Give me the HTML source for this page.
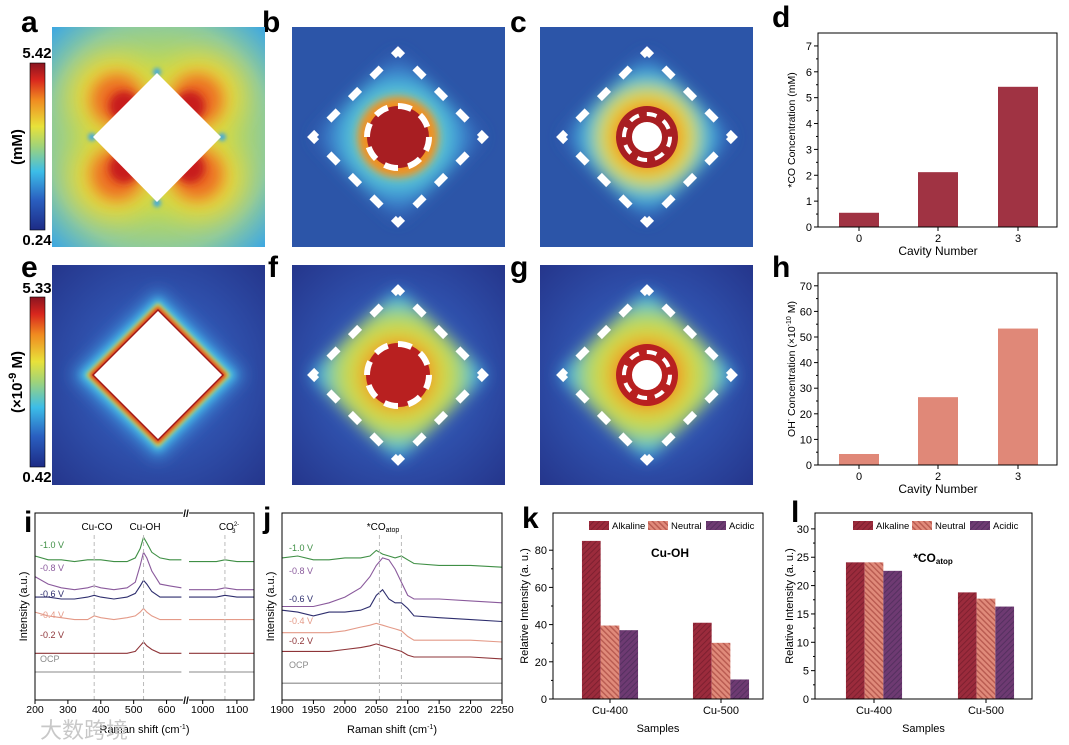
<!DOCTYPE html>
<html><head><meta charset="utf-8"><style>
html,body{margin:0;padding:0;background:#fff}
svg{display:block;font-family:"Liberation Sans","Noto Sans CJK SC",sans-serif}
</style></head><body>
<svg id="fig" width="1069" height="745" viewBox="0 0 1069 745" xmlns="http://www.w3.org/2000/svg">
<defs>
 <linearGradient id="jet" x1="0" y1="1" x2="0" y2="0">
  <stop offset="0" stop-color="#1d2b85"/><stop offset="0.18" stop-color="#2a5fc0"/><stop offset="0.35" stop-color="#3cbde8"/>
  <stop offset="0.5" stop-color="#9fd37a"/><stop offset="0.62" stop-color="#e8e23a"/><stop offset="0.78" stop-color="#f08a20"/>
  <stop offset="0.9" stop-color="#d8261e"/><stop offset="1" stop-color="#8a1420"/>
 </linearGradient>
 <filter id="b8" x="-50%" y="-50%" width="200%" height="200%"><feGaussianBlur stdDeviation="8"/></filter>
 <filter id="b4" x="-50%" y="-50%" width="200%" height="200%"><feGaussianBlur stdDeviation="4"/></filter>
 <filter id="b2" x="-50%" y="-50%" width="200%" height="200%"><feGaussianBlur stdDeviation="2"/></filter>
 <filter id="b14" x="-50%" y="-50%" width="200%" height="200%"><feGaussianBlur stdDeviation="14"/></filter>
 <radialGradient id="bgA" cx="0.5" cy="0.5" r="0.7"><stop offset="0.45" stop-color="#b8d858"/><stop offset="0.75" stop-color="#8ccaa0"/><stop offset="1" stop-color="#3fa8e0"/></radialGradient>
 <radialGradient id="bgB" cx="0.5" cy="0.5" r="0.5"><stop offset="0" stop-color="#e8e03a"/><stop offset="0.3" stop-color="#9fd37a"/><stop offset="0.55" stop-color="#4cc0e0"/><stop offset="0.8" stop-color="#3a78c8"/><stop offset="1" stop-color="#2c55a8"/></radialGradient>
 <radialGradient id="bgC" cx="0.5" cy="0.5" r="0.5"><stop offset="0" stop-color="#e03020"/><stop offset="0.3" stop-color="#f08a20"/><stop offset="0.5" stop-color="#e8e03a"/><stop offset="0.68" stop-color="#4cc0e0"/><stop offset="0.85" stop-color="#3a78c8"/><stop offset="1" stop-color="#2c55a8"/></radialGradient>
 <radialGradient id="bgE" cx="0.5" cy="0.5" r="0.7"><stop offset="0" stop-color="#3a6ed0"/><stop offset="1" stop-color="#25368c"/></radialGradient>
 <radialGradient id="bgF" cx="0.5" cy="0.5" r="0.5"><stop offset="0" stop-color="#d83020"/><stop offset="0.3" stop-color="#f09020"/><stop offset="0.5" stop-color="#d8dc40"/><stop offset="0.7" stop-color="#9fd37a"/><stop offset="0.85" stop-color="#4cc0e0"/><stop offset="1" stop-color="#3a78c8"/></radialGradient>
 <pattern id="hAlk" width="4" height="4" patternUnits="userSpaceOnUse" patternTransform="rotate(45)"><rect width="4" height="4" fill="#9b2b3c"/><rect width="1" height="4" fill="#7e2030"/></pattern>
 <pattern id="hNeu" width="4" height="4" patternUnits="userSpaceOnUse" patternTransform="rotate(-45)"><rect width="4" height="4" fill="#e08a7a"/><rect width="1.4" height="4" fill="#b85a50"/></pattern>
 <pattern id="hAci" width="4" height="4" patternUnits="userSpaceOnUse" patternTransform="rotate(45)"><rect width="4" height="4" fill="#6e3a72"/><rect width="1" height="4" fill="#553060"/></pattern>
 <clipPath id="ca"><rect x="52" y="27" width="213" height="220"/></clipPath>
 <clipPath id="cb"><rect x="292" y="27" width="213" height="220"/></clipPath>
 <clipPath id="cc"><rect x="540" y="27" width="213" height="220"/></clipPath>
 <clipPath id="ce"><rect x="52" y="265" width="213" height="220"/></clipPath>
 <clipPath id="cf"><rect x="292" y="265" width="213" height="220"/></clipPath>
 <clipPath id="cg"><rect x="540" y="265" width="213" height="220"/></clipPath>
</defs>

<g font-weight="bold" font-size="30" fill="#000">
 <text x="21" y="32">a</text><text x="262" y="32">b</text><text x="510" y="32">c</text><text x="772" y="27">d</text>
 <text x="21" y="277">e</text><text x="268" y="277">f</text><text x="510" y="277">g</text><text x="772" y="277">h</text>
 <text x="24" y="532">i</text><text x="263" y="528">j</text><text x="522" y="528">k</text><text x="791" y="522">l</text>
</g>

<!-- Panel a -->
<g clip-path="url(#ca)">
 <rect x="52" y="27" width="213" height="220" fill="url(#bgA)"/>
 <g filter="url(#b14)">
  <ellipse cx="112" cy="95" rx="42" ry="40" fill="#ecd838"/><ellipse cx="202" cy="95" rx="42" ry="40" fill="#ecd838"/>
  <ellipse cx="112" cy="179" rx="42" ry="40" fill="#ecd838"/><ellipse cx="202" cy="179" rx="42" ry="40" fill="#ecd838"/>
 </g>
 <g filter="url(#b8)">
  <ellipse cx="117" cy="100" rx="26" ry="26" fill="#ec6a20"/><ellipse cx="197" cy="100" rx="26" ry="26" fill="#ec6a20"/>
  <ellipse cx="117" cy="174" rx="26" ry="26" fill="#ec6a20"/><ellipse cx="197" cy="174" rx="26" ry="26" fill="#ec6a20"/>
 </g>
 <g filter="url(#b4)">
  <ellipse cx="124" cy="106" rx="15" ry="15" fill="#c81e1a"/><ellipse cx="190" cy="106" rx="15" ry="15" fill="#c81e1a"/>
  <ellipse cx="124" cy="168" rx="15" ry="15" fill="#c81e1a"/><ellipse cx="190" cy="168" rx="15" ry="15" fill="#c81e1a"/>
 </g>
 <g fill="#3fa8e0" filter="url(#b2)"><circle cx="157" cy="72" r="4"/><circle cx="157" cy="203" r="4"/><circle cx="92" cy="137" r="4"/><circle cx="222" cy="137" r="4"/></g>
 <polygon points="157,73 221,137 157,202 93,137" fill="#fff"/>
</g>
<rect x="30" y="63" width="15" height="167" fill="url(#jet)" stroke="#000" stroke-width="0.6"/>
<text x="37" y="58" font-size="15" font-weight="bold" text-anchor="middle">5.42</text>
<text x="37" y="245" font-size="15" font-weight="bold" text-anchor="middle">0.24</text>
<text transform="translate(22,147) rotate(-90)" font-size="15" font-weight="bold" text-anchor="middle">(mM)</text>

<!-- Panel b -->
<g clip-path="url(#cb)">
 <rect x="292" y="27" width="213" height="220" fill="#2c55a8"/>
 <polygon points="398,52 484,137 398,222 312,137" fill="url(#bgB)" filter="url(#b8)"/>
 <circle cx="398" cy="137" r="40" fill="#f09020" filter="url(#b4)"/>
 <circle cx="398" cy="137" r="31" fill="#a81e22"/>
 <circle cx="398" cy="137" r="31" fill="none" stroke="#fff" stroke-width="6" stroke-dasharray="14 10.3"/>
 <rect x="337.2" y="76.2" width="121.6" height="121.6" transform="rotate(45 398 137)" fill="none" stroke="#fff" stroke-width="7" stroke-dasharray="13 17.4" stroke-dashoffset="6.5"/>
</g>

<!-- Panel c -->
<g clip-path="url(#cc)">
 <rect x="540" y="27" width="213" height="220" fill="#2c55a8"/>
 <polygon points="647,52 733,137 647,222 561,137" fill="url(#bgC)" filter="url(#b8)"/>
 <circle cx="647" cy="137" r="31" fill="#a81e22"/>
 <circle cx="647" cy="137" r="23" fill="none" stroke="#fff" stroke-width="4" stroke-dasharray="10 8"/>
 <circle cx="647" cy="137" r="15" fill="#fff"/>
 <rect x="586.2" y="76.2" width="121.6" height="121.6" transform="rotate(45 647 137)" fill="none" stroke="#fff" stroke-width="7" stroke-dasharray="13 17.4" stroke-dashoffset="6.5"/>
</g>

<!-- Panel e -->
<g clip-path="url(#ce)">
 <rect x="52" y="265" width="213" height="220" fill="url(#bgE)"/>
 <polygon points="158,290 244,375 158,460 72,375" fill="#3f9ade" filter="url(#b8)"/>
 <polygon points="158,298 236,375 158,452 80,375" fill="#48c8e8" filter="url(#b4)"/>
 <polygon points="158,303 230,375 158,447 86,375" fill="#e8e03a" filter="url(#b2)"/>
 <polygon points="158,306 227,375 158,444 89,375" fill="#d8301e" filter="url(#b2)"/>
 <polygon points="158,309 224,375 158,441 92,375" fill="#a01818"/>
 <polygon points="158,311 222,375 158,439 94,375" fill="#fff"/>
</g>
<rect x="30" y="297" width="15" height="170" fill="url(#jet)" stroke="#000" stroke-width="0.6"/>
<text x="37" y="293" font-size="15" font-weight="bold" text-anchor="middle">5.33</text>
<text x="37" y="482" font-size="15" font-weight="bold" text-anchor="middle">0.42</text>
<text transform="translate(22,382) rotate(-90)" font-size="15" font-weight="bold" text-anchor="middle">(×10<tspan dy="-6" font-size="11">-9</tspan><tspan dy="6"> M)</tspan></text>

<!-- Panel f -->
<g clip-path="url(#cf)">
 <rect x="292" y="265" width="213" height="220" fill="url(#bgE)"/>
 <polygon points="398,288 488,375 398,462 308,375" fill="url(#bgF)" filter="url(#b8)"/>
 <circle cx="398" cy="375" r="32" fill="#b82020"/>
 <circle cx="398" cy="375" r="31" fill="none" stroke="#fff" stroke-width="6" stroke-dasharray="14 10.3"/>
 <rect x="337.2" y="314.2" width="121.6" height="121.6" transform="rotate(45 398 375)" fill="none" stroke="#fff" stroke-width="7" stroke-dasharray="13 17.4" stroke-dashoffset="6.5"/>
</g>

<!-- Panel g -->
<g clip-path="url(#cg)">
 <rect x="540" y="265" width="213" height="220" fill="url(#bgE)"/>
 <polygon points="647,288 737,375 647,462 557,375" fill="url(#bgF)" filter="url(#b8)"/>
 <circle cx="647" cy="375" r="31" fill="#b82020"/>
 <circle cx="647" cy="375" r="23" fill="none" stroke="#fff" stroke-width="4" stroke-dasharray="10 8"/>
 <circle cx="647" cy="375" r="15" fill="#fff"/>
 <rect x="586.2" y="314.2" width="121.6" height="121.6" transform="rotate(45 647 375)" fill="none" stroke="#fff" stroke-width="7" stroke-dasharray="13 17.4" stroke-dashoffset="6.5"/>
</g>

<g id="charts"></g>
<text x="40" y="738" font-size="22" fill="#c8c8c8">大数跨境</text>
</svg>
<script>
// ---- data ----
const cavityCats = ["0","2","3"];
const coConc = [0.55, 2.12, 5.42];
const ohConc = [4.3, 26.5, 53.3];
const sampleCats = ["Cu-400","Cu-500"];
const kAlkaline = [85, 41];
const kNeutral = [39.5, 30.2];
const kAcidic = [37, 10.5];
const lAlkaline = [24.1, 18.8];
const lNeutral = [24.1, 17.7];
const lAcidic = [22.6, 16.3];
const dTicks = [0,1,2,3,4,5,6,7];
const hTicks = [0,10,20,30,40,50,60,70];
const kTicks = [0,20,40,60,80];
const lTicks = [0,5,10,15,20,25,30];
const spectraLabels = ["-1.0 V","-0.8 V","-0.6 V","-0.4 V","-0.2 V","OCP"];
const spectraColors = ["#3f8f45","#8a5a9c","#2e2e6e","#e49a88","#8e3438","#8a8a8a"];
const iXLeft = [200,240,280,320,360,380,400,440,480,505,520,530,540,555,580,610,645];
const iXRight = [960,1000,1040,1065,1100,1150];
const iLeft = [
 [77,75,75,74,75,75,75,74,74,76,81,87,84,79,76,75,75],
 [66,62,60,59,60,61,60,59,60,63,72,79,76,69,62,61,60],
 [55,55,54,54,55,56,55,54,55,57,61,64,62,58,55,55,55],
 [47,45,44,43,43,45,44,43,44,45,47,49,47,45,43,43,43],
 [25,25,25,25,25,25,25,25,25,26,29,31,29,27,25,25,25],
 [15,15,15,15,15,15,15,15,15,15,15,15,15,15,15,15,15]];
const iRight = [
 [74,74,74,75,74,74],[59,59,59,60,59,59],[55,55,55,56,55,55],
 [43,43,43,43,43,43],[25,25,25,25,25,25],[15,15,15,15,15,15]];
const jX = [1900,1925,1950,1975,2000,2025,2040,2050,2060,2070,2080,2090,2100,2110,2150,2200,2250];
const jY = [
 [76,77,75,75,76,76,77,80,78,77,76,77,75,73,72,72,71],
 [50,50,50,52,55,60,66,72,76,75,70,63,56,54,54,53,52],
 [48,47,45,47,47,48,50,56,59,54,52,52,49,45,44,43,42],
 [36,36,36,36,37,39,40,41,40,39,38,37,34,32,32,32,31],
 [26,26,26,26,27,28,29,30,29,28,27,26,24,23,23,23,22],
 [9,9,9,9,9,9,9,9,9,9,9,9,9,9,9,9,9]];
const iTicksL = [200,300,400,500,600];
const iTicksR = [1000,1100];
const jTicks = [1900,1950,2000,2050,2100,2150,2200,2250];

const NS = "http://www.w3.org/2000/svg";
const root = document.getElementById("charts");
function el(tag, attrs, parent, txt){
 const e = document.createElementNS(NS, tag);
 for (const k in attrs) e.setAttribute(k, attrs[k]);
 if (txt !== undefined) e.textContent = txt;
 (parent || root).appendChild(e);
 return e;
}
function lin(d0,d1,r0,r1){ return v => r0 + (v-d0)/(d1-d0)*(r1-r0); }

function cavityChart(name, top, bottom, vmax, ticks, vals, color, ylabel){
 const g = el("g", {});
 
 
 const x0 = 818, x1 = 1057;
 const y = lin(0, vmax, bottom, top);
 const xc = [859, 938, 1018];
 vals.forEach((v,i)=>{
  const r = el("rect",{x:xc[i]-20,y:y(v),width:40,height:bottom-y(v),fill:color},g);
  
  
 });
 el("rect",{x:x0,y:top,width:x1-x0,height:bottom-top,fill:"none",stroke:"#000","stroke-width":1},g);
 ticks.forEach(t=>{
  el("line",{x1:x0,x2:x0-4,y1:y(t),y2:y(t),stroke:"#000"},g);
  el("text",{x:x0-6,y:y(t)+4,"font-size":11,"text-anchor":"end"},g,String(t));
 });
 for (let i=0;i<ticks.length-1;i++){ const m=(ticks[i]+ticks[i+1])/2; el("line",{x1:x0,x2:x0-2,y1:y(m),y2:y(m),stroke:"#000"},g); }
 xc.forEach((c,i)=>{
  el("line",{x1:c,x2:c,y1:bottom,y2:bottom+4,stroke:"#000"},g);
  el("text",{x:c,y:bottom+15,"font-size":11,"text-anchor":"middle"},g,cavityCats[i]);
 });
 el("text",{x:938,y:bottom+28,"font-size":12,"text-anchor":"middle"},g,"Cavity Number");
 const yl = el("text",{transform:`translate(795,${(top+bottom)/2}) rotate(-90)`,"font-size":10.5,"text-anchor":"middle"},g);
 yl.innerHTML = ylabel;
}
cavityChart("chart-d", 33, 227, 7.5, dTicks, coConc, "#a03343", "*CO Concentration (mM)");
cavityChart("chart-h", 273, 465, 75, hTicks, ohConc, "#e08878", 'OH<tspan dy="-4" font-size="7">-</tspan><tspan dy="4"> Concentration (×10</tspan><tspan dy="-4" font-size="7">-10</tspan><tspan dy="4"> M)</tspan>');

function groupChart(name, x0, x1, top, bottom, vmax, ticks, alk, neu, aci, centers, title, ylabel, titleX, titleY, ylx, lx){
 const g = el("g", {});
 
 
 const y = lin(0, vmax, bottom, top);
 const series = [[alk,"url(#hAlk)","Alkaline"],[neu,"url(#hNeu)","Neutral"],[aci,"url(#hAci)","Acidic"]];
 const bw = 18.7;
 series.forEach((s,si)=>{
  s[0].forEach((v,ci)=>{
   const r = el("rect",{x:centers[ci]+(si-1.5)*bw,y:y(v),width:bw,height:bottom-y(v),fill:s[1]},g);
   
   
  });
 });
 el("rect",{x:x0,y:top,width:x1-x0,height:bottom-top,fill:"none",stroke:"#000","stroke-width":1},g);
 ticks.forEach(t=>{
  el("line",{x1:x0,x2:x0-4,y1:y(t),y2:y(t),stroke:"#000"},g);
  el("text",{x:x0-6,y:y(t)+4,"font-size":11,"text-anchor":"end"},g,String(t));
 });
 for (let i=0;i<ticks.length-1;i++){ const m=(ticks[i]+ticks[i+1])/2; el("line",{x1:x0,x2:x0-2,y1:y(m),y2:y(m),stroke:"#000"},g); }
 centers.forEach((c,i)=>{
  el("line",{x1:c,x2:c,y1:bottom,y2:bottom+4,stroke:"#000"},g);
  el("text",{x:c,y:bottom+15,"font-size":11,"text-anchor":"middle"},g,sampleCats[i]);
 });
 el("text",{x:(x0+x1)/2,y:bottom+33,"font-size":11,"text-anchor":"middle"},g,"Samples");
 el("text",{transform:`translate(${ylx},${(top+bottom)/2}) rotate(-90)`,"font-size":11,"text-anchor":"middle"},g,ylabel);
 const leg = el("g",{},g);
 
 
 const offs = [0, 59, 117];
 series.forEach((s,si)=>{
  el("rect",{x:lx+offs[si],y:top+8,width:20,height:9,fill:s[1]},leg);
  el("text",{x:lx+offs[si]+23,y:top+16,"font-size":9.5},leg,s[2]);
 });
 const t = el("text",{x:titleX,y:titleY,"font-size":12,"font-weight":"bold","text-anchor":"middle"},g);
 t.innerHTML = title;
}
groupChart("chart-k", 553, 763, 513, 699, 100, kTicks, kAlkaline, kNeutral, kAcidic, [610,721], "Cu-OH", "Relative Intensity (a. u.)", 670, 557, 528, 589);
groupChart("chart-l", 815, 1032, 513, 699, 32.8, lTicks, lAlkaline, lNeutral, lAcidic, [874,986], '*CO<tspan font-size="8" dy="2">atop</tspan>', "Relative Intensity (a. u.)", 933, 562, 793, 853);

function spectraPanel(name, px0, px1, top, bottom, segs, labelX, labelY, ticksSpec, annots){
 const g = el("g", {});
 
 
 const y = lin(0, 100, bottom, top);
 segs.forEach(seg=>{
  const x = lin(seg.d0, seg.d1, seg.r0, seg.r1);
  seg.ys.forEach((arr,si)=>{
   const d = arr.map((v,k)=>(k?"L":"M")+x(seg.xs[k]).toFixed(1)+","+y(v).toFixed(1)).join(" ");
   const p = el("path",{d:d,fill:"none",stroke:spectraColors[si],"stroke-width":1.1},g);
   
   
  });
 });
 annots.forEach(a=>{
  el("line",{x1:a.x,x2:a.x,y1:a.y1,y2:bottom,stroke:"#bbb","stroke-dasharray":"4 3"},g);
 });
 spectraLabels.forEach((l,si)=>{
  el("text",{x:labelX,y:labelY[si],"font-size":9,fill:spectraColors[si]},g,l);
 });
 el("rect",{x:px0,y:top,width:px1-px0,height:bottom-top,fill:"none",stroke:"#000","stroke-width":1},g);
 ticksSpec.forEach(t=>{
  el("line",{x1:t.x,x2:t.x,y1:bottom,y2:bottom+4,stroke:"#000"},g);
  el("text",{x:t.x,y:bottom+13,"font-size":10.5,"text-anchor":"middle"},g,t.label);
 });
 el("text",{transform:`translate(${px0-8},${(top+bottom)/2}) rotate(-90)`,"font-size":11,"text-anchor":"middle"},g,"Intensity (a.u.)");
 const xl = el("text",{x:(px0+px1)/2,y:bottom+33,"font-size":11,"text-anchor":"middle"},g);
 xl.innerHTML = 'Raman shift (cm<tspan dy="-4" font-size="7">-1</tspan><tspan dy="4">)</tspan>';
 return g;
}
const iL = lin(200,650,35,183), iR = lin(960,1150,189,254);
const gi = spectraPanel("chart-i", 35, 254, 513, 700,
 [{d0:200,d1:650,r0:35,r1:183,xs:iXLeft,ys:iLeft},{d0:960,d1:1150,r0:189,r1:254,xs:iXRight,ys:iRight}],
 40, [548,571,597,618,638,662],
 iTicksL.map(v=>({x:iL(v),label:String(v)})).concat(iTicksR.map(v=>({x:iR(v),label:String(v)}))),
 [{x:iL(380),y1:535},{x:iL(530),y1:535},{x:iR(1065),y1:535}]);
el("rect",{x:183,y:509,width:6,height:8,fill:"#fff"},gi);
el("rect",{x:183,y:696,width:6,height:8,fill:"#fff"},gi);
el("text",{x:186,y:517,"font-size":10,"font-weight":"bold","text-anchor":"middle"},gi,"//");
el("text",{x:186,y:704,"font-size":10,"font-weight":"bold","text-anchor":"middle"},gi,"//");
el("text",{x:97,y:530,"font-size":10,"text-anchor":"middle"},gi,"Cu-CO");
el("text",{x:145,y:530,"font-size":10,"text-anchor":"middle"},gi,"Cu-OH");
const co3 = el("text",{x:229,y:530,"font-size":10,"text-anchor":"middle"},gi);
co3.innerHTML = 'CO<tspan font-size="6" dy="-4">2-</tspan><tspan font-size="6" dx="-7" dy="7">3</tspan>';
const jx = lin(1900,2250,282,502);
const gj = spectraPanel("chart-j", 282, 502, 513, 700,
 [{d0:1900,d1:2250,r0:282,r1:502,xs:jX,ys:jY}],
 289, [551,574,602,624,644,668],
 jTicks.map(v=>({x:jx(v),label:String(v)})),
 [{x:jx(2055),y1:535},{x:jx(2090),y1:535}]);
const jt = el("text",{x:383,y:530,"font-size":10,"text-anchor":"middle"},gj);
jt.innerHTML = '*CO<tspan font-size="7" dy="2">atop</tspan>';
</script>
</body></html>
